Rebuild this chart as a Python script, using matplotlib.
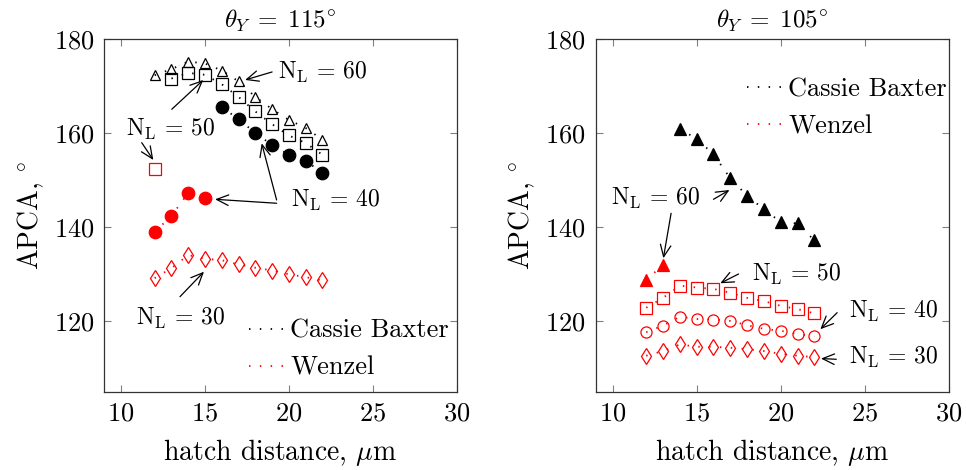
import matplotlib
matplotlib.use("Agg")
import matplotlib.pyplot as plt
from matplotlib.lines import Line2D

plt.rcParams.update({
    "font.family": "serif",
    "font.serif": ["cmr10", "DejaVu Serif"],
    "mathtext.fontset": "cm",
    "axes.formatter.use_mathtext": True,
    "font.size": 19,
})

# ---- data: theta_Y = 115 deg ----
h_l_cb60 = [12, 13, 14, 15, 16, 17, 18, 19, 20, 21, 22]
v_l_cb60 = [172.3, 173.6, 175.2, 174.8, 173.3, 171.0, 167.7, 165.1, 162.8, 161.1, 158.6]
h_l_cb50 = [13, 14, 15, 16, 17, 18, 19, 20, 21, 22]
v_l_cb50 = [171.6, 172.8, 172.4, 170.4, 167.7, 164.6, 161.9, 159.5, 157.9, 155.4]
h_l_cb40 = [16, 17, 18, 19, 20, 21, 22]
v_l_cb40 = [165.5, 163.0, 160.0, 157.5, 155.4, 154.1, 151.6]
h_l_w50 = [12]
v_l_w50 = [152.3]
h_l_w40 = [12, 13, 14, 15]
v_l_w40 = [139.0, 142.4, 147.3, 146.3]
h_l_w30 = [12, 13, 14, 15, 16, 17, 18, 19, 20, 21, 22]
v_l_w30 = [129.2, 131.3, 134.1, 133.3, 133.0, 132.1, 131.4, 130.8, 130.0, 129.4, 128.7]

# ---- data: theta_Y = 105 deg ----
h_r_cb60 = [14, 15, 16, 17, 18, 19, 20, 21, 22]
v_r_cb60 = [160.9, 158.8, 155.5, 150.4, 146.7, 143.8, 141.1, 140.8, 137.2]
h_r_w60 = [12, 13]
v_r_w60 = [128.8, 132.0]
h_r_w50 = [12, 13, 14, 15, 16, 17, 18, 19, 20, 21, 22]
v_r_w50 = [122.9, 125.0, 127.6, 127.2, 126.9, 126.1, 125.0, 124.3, 123.3, 122.6, 121.7]
h_r_w40 = [12, 13, 14, 15, 16, 17, 18, 19, 20, 21, 22]
v_r_w40 = [117.7, 119.1, 121.0, 120.5, 120.4, 120.1, 119.2, 118.4, 118.0, 117.3, 116.8]
h_r_w30 = [12, 13, 14, 15, 16, 17, 18, 19, 20, 21, 22]
v_r_w30 = [112.7, 113.7, 115.1, 114.6, 114.6, 114.4, 114.1, 113.7, 113.1, 112.7, 112.4]

titles = [r"$\theta_Y\;=\;115^{\circ}$", r"$\theta_Y\;=\;105^{\circ}$"]
x_ticks = [10, 15, 20, 25, 30]
y_ticks = [120, 140, 160, 180]

DOT = (0, (0.8, 5.2))
LW = 1.3
MEW = 0.9


def series(ax, x, y, color, marker, ms, filled):
    ax.plot(x, y, linestyle=DOT, lw=LW, color=color, marker=marker,
            markersize=ms, markeredgewidth=MEW, markeredgecolor=color,
            markerfacecolor=color if filled else "none")


def arrow(ax, start, end):
    ax.annotate("", xy=end, xytext=start,
                arrowprops=dict(arrowstyle="->,head_length=0.45,head_width=0.2",
                                lw=0.9, color="black", shrinkA=0, shrinkB=0))


def label(ax, xy, n):
    ax.text(xy[0], xy[1], r"$\mathrm{N_L}\,=\,%d$" % n, ha="center", va="center",
            fontsize=17)


fig = plt.figure(figsize=(9.66, 4.70), dpi=100)
axL = fig.add_axes([0.108, 0.166, 0.3647, 0.751])
axR = fig.add_axes([0.6167, 0.166, 0.3657, 0.751])

# left panel
series(axL, h_l_cb60, v_l_cb60, "black", "^", 7.5, False)
series(axL, h_l_cb50, v_l_cb50, "black", "s", 8.0, False)
series(axL, h_l_cb40, v_l_cb40, "black", "o", 9.0, True)
series(axL, h_l_w50, v_l_w50, "red", "s", 8.0, False)
series(axL, h_l_w40, v_l_w40, "red", "o", 9.0, True)
series(axL, h_l_w30, v_l_w30, "red", "d", 8.0, False)

label(axL, (22.0, 173.0), 60)
arrow(axL, (19.0, 173.0), (17.39, 171.3))
label(axL, (12.96, 160.7), 50)
arrow(axL, (13.02, 165.07), (14.90, 171.29))
arrow(axL, (11.23, 157.97), (11.92, 154.29))
label(axL, (22.75, 145.6), 40)
arrow(axL, (19.27, 145.1), (15.60, 145.94))
arrow(axL, (19.27, 145.8), (18.38, 157.84))
label(axL, (13.51, 120.7), 30)
arrow(axL, (13.51, 125.25), (14.94, 130.56))

# right panel
series(axR, h_r_cb60, v_r_cb60, "black", "^", 8.0, True)
series(axR, h_r_w60, v_r_w60, "red", "^", 8.0, True)
series(axR, h_r_w50, v_r_w50, "red", "s", 8.0, False)
series(axR, h_r_w40, v_r_w40, "red", "o", 8.0, False)
series(axR, h_r_w30, v_r_w30, "red", "d", 8.0, False)

label(axR, (12.53, 146.2), 60)
arrow(axR, (16.0, 145.94), (16.95, 147.92))
arrow(axR, (13.48, 142.97), (13.02, 133.41))
label(axR, (20.92, 130.07), 50)
arrow(axR, (17.49, 130.07), (16.40, 128.1))
label(axR, (26.70, 122.2), 40)
arrow(axR, (23.35, 121.85), (22.35, 118.33))
label(axR, (26.70, 112.44), 30)
arrow(axR, (23.30, 111.95), (22.39, 112.1))

handles = [Line2D([], [], linestyle=DOT, lw=LW, color="black"),
           Line2D([], [], linestyle=DOT, lw=LW, color="red")]
names = ["Cassie Baxter", "Wenzel"]

for ax, title in zip([axL, axR], titles):
    ax.set_xlim(9, 30)
    ax.set_ylim(105, 180)
    ax.set_xticks(x_ticks)
    ax.set_yticks(y_ticks)
    ax.tick_params(direction="in", top=True, right=True, length=5,
                   width=0.8, color="#808080", labelsize=19, pad=7)
    for sp in ax.spines.values():
        sp.set_linewidth(0.9)
        sp.set_color("#333333")
    ax.set_title(title, fontsize=18, pad=8)
    ax.set_xlabel(r"hatch distance, $\mu$m", fontsize=20, labelpad=8)
    ax.set_ylabel(r"APCA, $^{\circ}$", fontsize=20, labelpad=6)

leg_kw = dict(frameon=False, fontsize=19, handlelength=1.4, handletextpad=0.15,
              labelspacing=0.5, borderaxespad=0.0, borderpad=0.3)
axL.legend(handles, names, loc="lower right", bbox_to_anchor=(1.0, 0.012), **leg_kw)
axR.legend(handles, names, loc="upper right", bbox_to_anchor=(1.016, 0.912), **leg_kw)

fig.savefig("out.png", dpi=100)
